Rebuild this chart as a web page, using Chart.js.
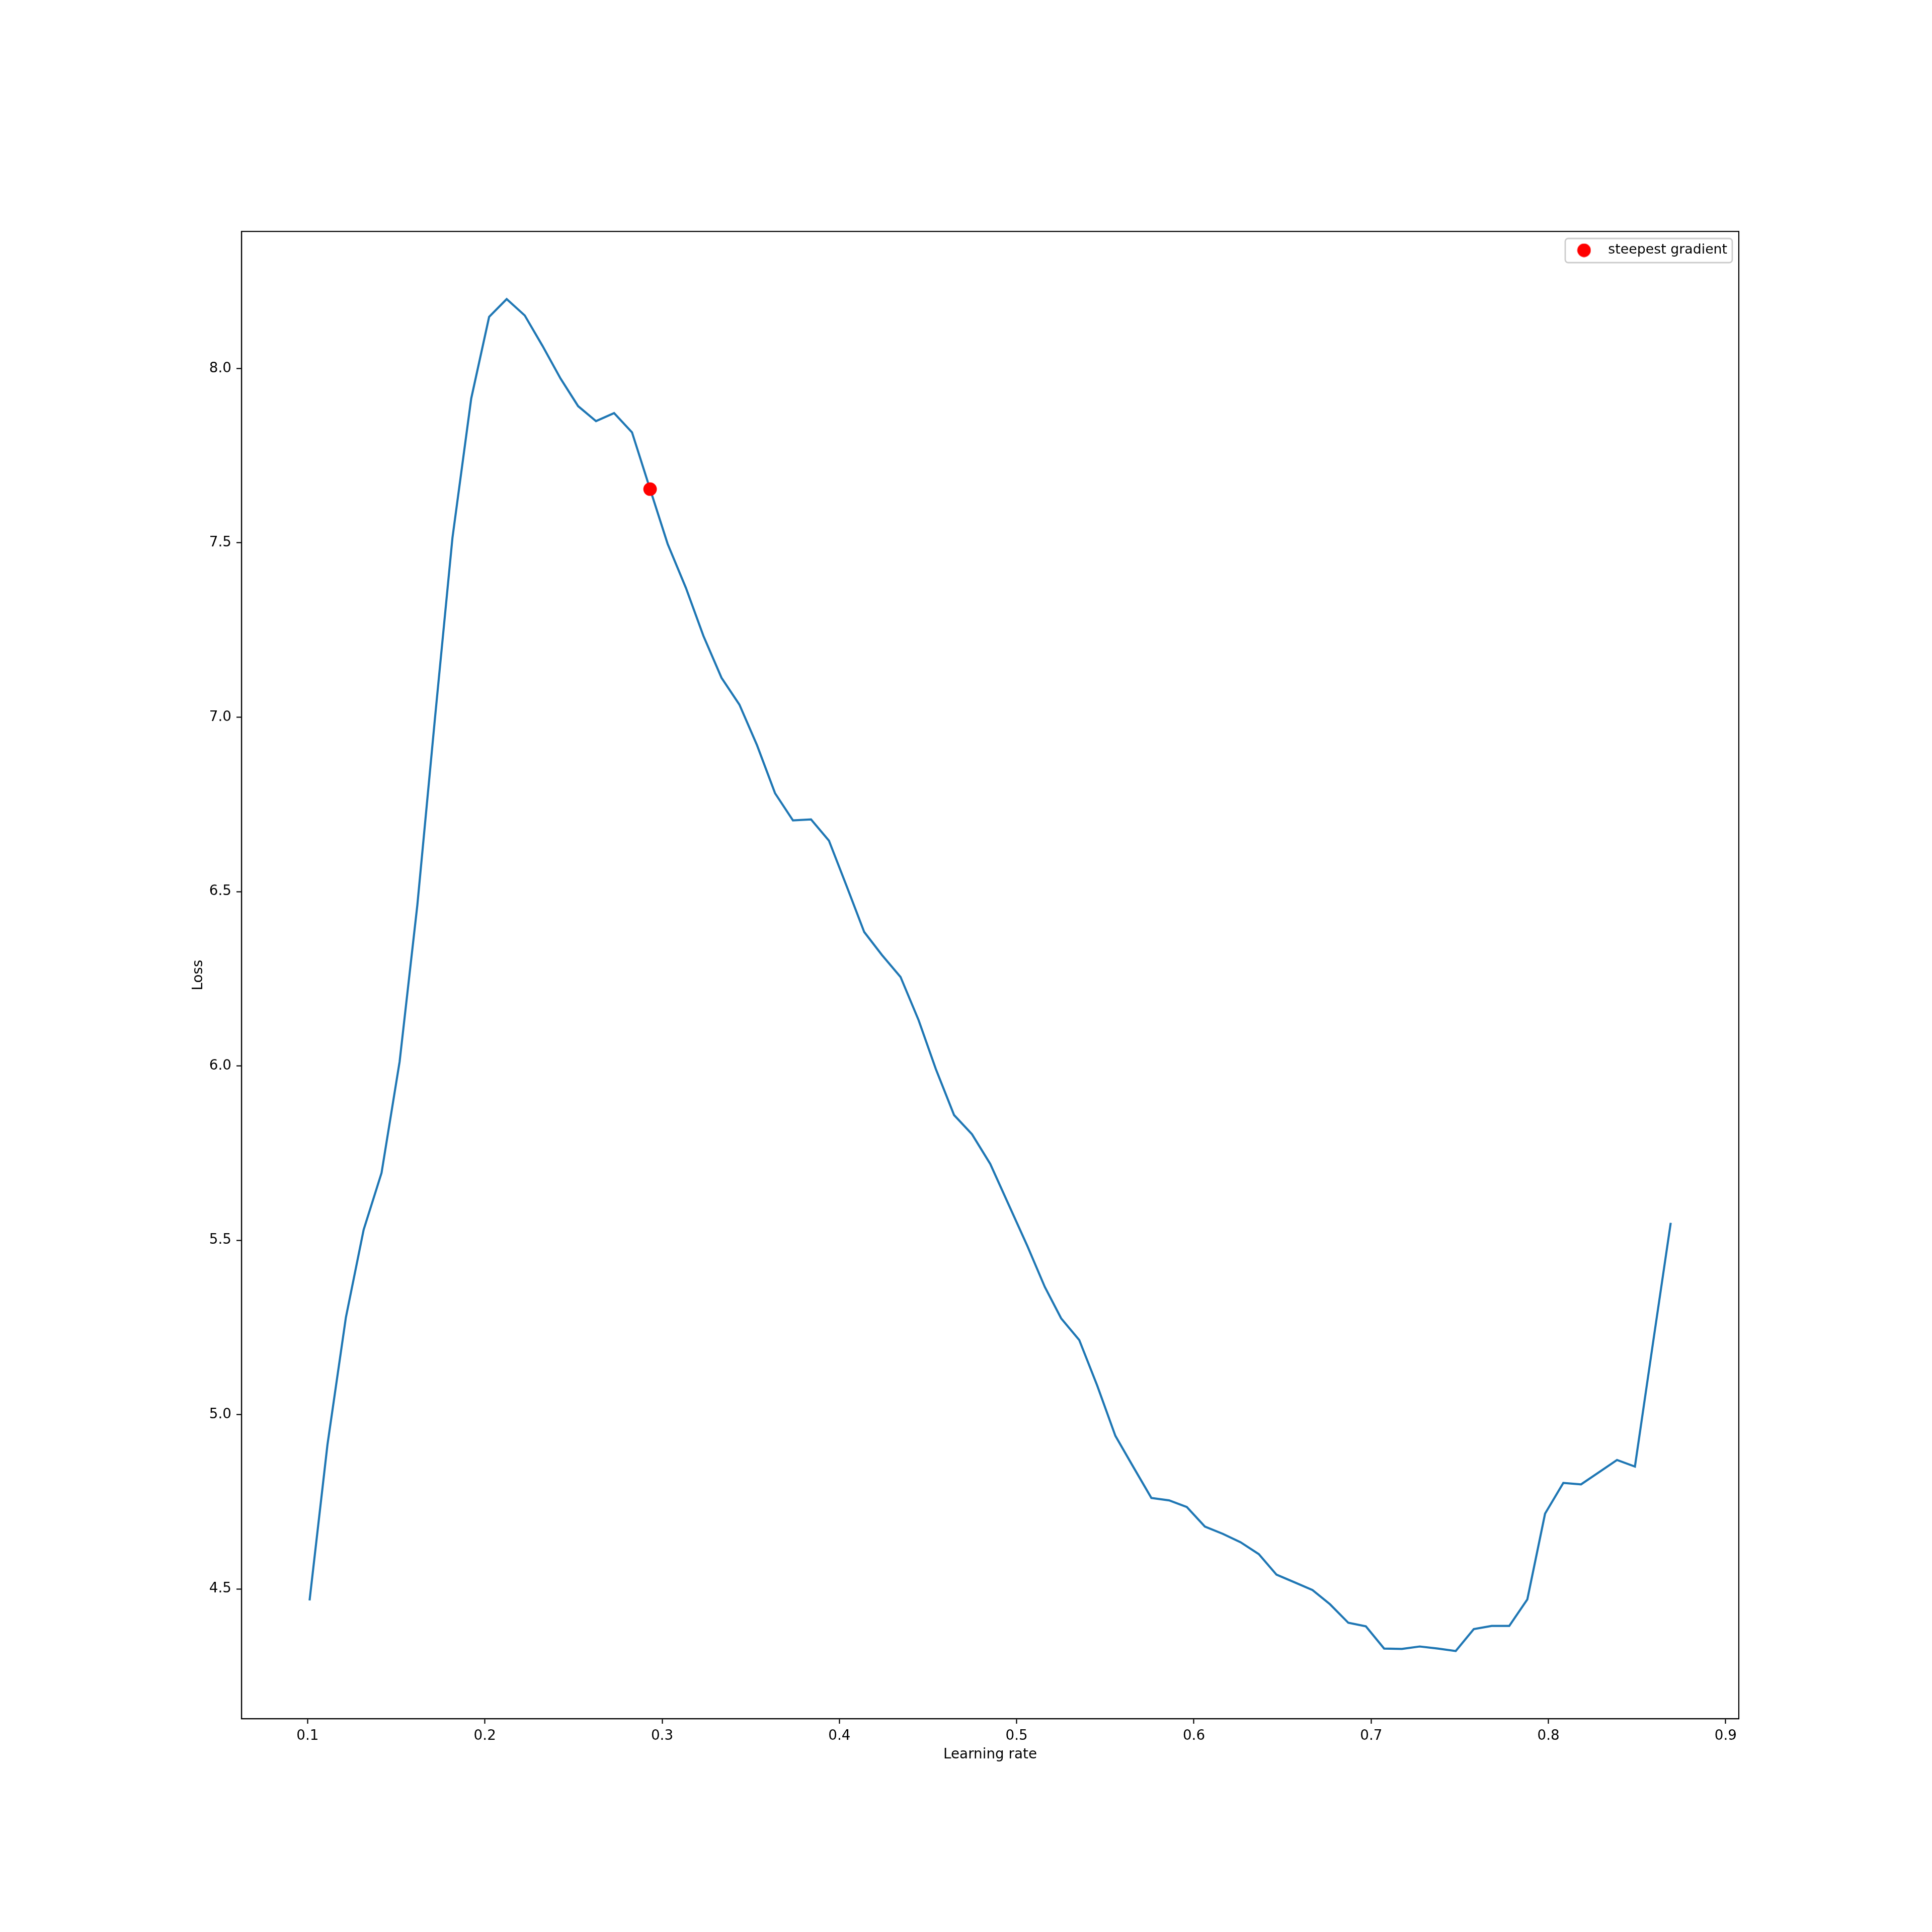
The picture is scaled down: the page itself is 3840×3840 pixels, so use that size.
<!DOCTYPE html>
<html>
<head>
<meta charset="utf-8">
<script src="https://cdn.jsdelivr.net/npm/chart.js@4.4.0/dist/chart.umd.min.js"></script>
<style>
  body { margin: 0; background: #ffffff; }
  canvas { display: block; }
</style>
</head>
<body>
<canvas id="lrChart" width="3840" height="3840" style="width:3840px;height:3840px"></canvas>
<script>
// learning rate finder values
var learningRates = [0.1011, 0.1112, 0.1216, 0.1316, 0.1417, 0.1519, 0.1619, 0.1719, 0.1817, 0.1923,
    0.2024, 0.2123, 0.2225, 0.2325, 0.2427, 0.2526, 0.2627, 0.2729, 0.2830, 0.2932,
    0.3031, 0.3134, 0.3233, 0.3335, 0.3436, 0.3535, 0.3637, 0.3738, 0.3840, 0.3941,
    0.4042, 0.4140, 0.4240, 0.4345, 0.4447, 0.4544, 0.4647, 0.4748, 0.4851, 0.4955,
    0.5060, 0.5159, 0.5251, 0.5353, 0.5454, 0.5557, 0.5658, 0.5760, 0.5860, 0.5960,
    0.6062, 0.6163, 0.6263, 0.6366, 0.6466, 0.6568, 0.6669, 0.6768, 0.6871, 0.6970,
    0.7073, 0.7173, 0.7274, 0.7376, 0.7477, 0.7579, 0.7680, 0.7779, 0.7881, 0.7981,
    0.8084, 0.8184, 0.8286, 0.8387, 0.8488, 0.8588, 0.8690];
var losses = [4.467, 4.914, 5.279, 5.530, 5.693, 6.012, 6.461, 7.000, 7.514, 7.914,
    8.148, 8.199, 8.152, 8.065, 7.971, 7.892, 7.849, 7.872, 7.817, 7.654,
    7.497, 7.371, 7.233, 7.113, 7.036, 6.920, 6.782, 6.704, 6.707, 6.646,
    6.514, 6.384, 6.318, 6.255, 6.131, 5.991, 5.859, 5.804, 5.719, 5.602,
    5.484, 5.366, 5.276, 5.214, 5.084, 4.939, 4.850, 4.761, 4.754, 4.735,
    4.679, 4.658, 4.634, 4.600, 4.541, 4.519, 4.497, 4.456, 4.403, 4.393,
    4.329, 4.328, 4.335, 4.329, 4.322, 4.385, 4.394, 4.394, 4.470, 4.716,
    4.804, 4.800, 4.835, 4.870, 4.851, 5.199, 5.550];
var steepestLr = [0.2932];
var steepestLoss = [7.654];
var xTicks = [0.1, 0.2, 0.3, 0.4, 0.5, 0.6, 0.7, 0.8, 0.9];
var yTicks = [4.5, 5.0, 5.5, 6.0, 6.5, 7.0, 7.5, 8.0];

var fontSize = 27.8;
Chart.defaults.font.family = "'DejaVu Sans'";
Chart.defaults.font.size = fontSize;
Chart.defaults.color = '#000000';

function toPoints(xs, ys) {
    return xs.map(function (x, i) { return {x: x, y: ys[i]}; });
}

// red dot used as the legend marker (drawn at its own size)
var dot = document.createElement('canvas');
dot.width = 28;
dot.height = 28;
var dctx = dot.getContext('2d');
dctx.fillStyle = '#ff0000';
dctx.beginPath();
dctx.arc(14, 14, 13.4, 0, Math.PI * 2);
dctx.fill();

// put the legend in the top right corner of the plot and draw its frame + the full axes box
var framePlugin = {
    id: 'framePlugin',
    afterLayout: function (chart) {
        var lg = chart.legend, ca = chart.chartArea;
        lg.left = ca.right - 352.1;
        lg.top = ca.top + 14.1;
        lg.right = lg.left + lg.width;
        lg.bottom = lg.top + 60;
    },
    afterDraw: function (chart) {
        var ctx = chart.ctx, ca = chart.chartArea;
        ctx.save();
        ctx.strokeStyle = '#000000';
        ctx.lineWidth = 2.2;
        ctx.strokeRect(ca.left, ca.top, ca.right - ca.left, ca.bottom - ca.top);
        ctx.strokeStyle = '#cccccc';
        ctx.lineWidth = 2.8;
        ctx.beginPath();
        ctx.roundRect(ca.right - 345, ca.top + 14, 332, 48, 6);
        ctx.stroke();
        ctx.restore();
    }
};

var axisFont = {family: "'DejaVu Sans'", size: fontSize};

new Chart(document.getElementById('lrChart').getContext('2d'), {
    type: 'scatter',
    data: {
        datasets: [{
            label: 'steepest gradient',
            data: toPoints(steepestLr, steepestLoss),
            backgroundColor: '#ff0000',
            borderWidth: 0,
            pointRadius: 13.4,
            order: 0
        }, {
            label: 'loss',
            data: toPoints(learningRates, losses),
            showLine: true,
            borderColor: '#1f77b4',
            borderWidth: 4.2,
            pointRadius: 0,
            tension: 0,
            order: 1
        }]
    },
    options: {
        responsive: false,
        animation: false,
        devicePixelRatio: 1,
        layout: {padding: {left: 0, top: 460, right: 384, bottom: 0}},
        plugins: {
            tooltip: {enabled: false},
            legend: {
                position: 'chartArea',
                align: 'start',
                labels: {
                    usePointStyle: true,
                    pointStyle: dot,
                    pointStyleWidth: 69,
                    padding: 10,
                    color: '#000000',
                    font: {family: "'DejaVu Sans'", size: 26.8},
                    filter: function (item) { return item.datasetIndex === 0; }
                }
            }
        },
        scales: {
            x: {
                type: 'linear',
                position: 'bottom',
                min: 0.0627,
                max: 0.9074,
                afterBuildTicks: function (axis) {
                    axis.ticks = xTicks.map(function (v) { return {value: v}; });
                },
                afterFit: function (axis) { axis.height = 424; },
                ticks: {
                    font: axisFont,
                    color: '#000000',
                    padding: 8,
                    maxRotation: 0,
                    callback: function (v) { return v.toFixed(1); }
                },
                grid: {drawOnChartArea: false, drawTicks: true, tickLength: 10, tickWidth: 2.2, tickColor: '#000000'},
                border: {display: true, color: '#000000', width: 2.2},
                title: {display: true, text: 'Learning rate', font: axisFont, color: '#000000', padding: {top: 0, bottom: 336}}
            },
            y: {
                type: 'linear',
                position: 'left',
                min: 4.128,
                max: 8.393,
                afterBuildTicks: function (axis) {
                    axis.ticks = yTicks.map(function (v) { return {value: v}; });
                },
                afterFit: function (axis) { axis.width = 480; },
                ticks: {
                    font: axisFont,
                    color: '#000000',
                    padding: 10,
                    callback: function (v) { return v.toFixed(1); }
                },
                grid: {drawOnChartArea: false, drawTicks: true, tickLength: 10, tickWidth: 2.2, tickColor: '#000000'},
                border: {display: true, color: '#000000', width: 2.2},
                title: {display: true, text: 'Loss', font: axisFont, color: '#000000', padding: {top: 378, bottom: 0}}
            }
        }
    },
    plugins: [framePlugin]
});
</script>
</body>
</html>
